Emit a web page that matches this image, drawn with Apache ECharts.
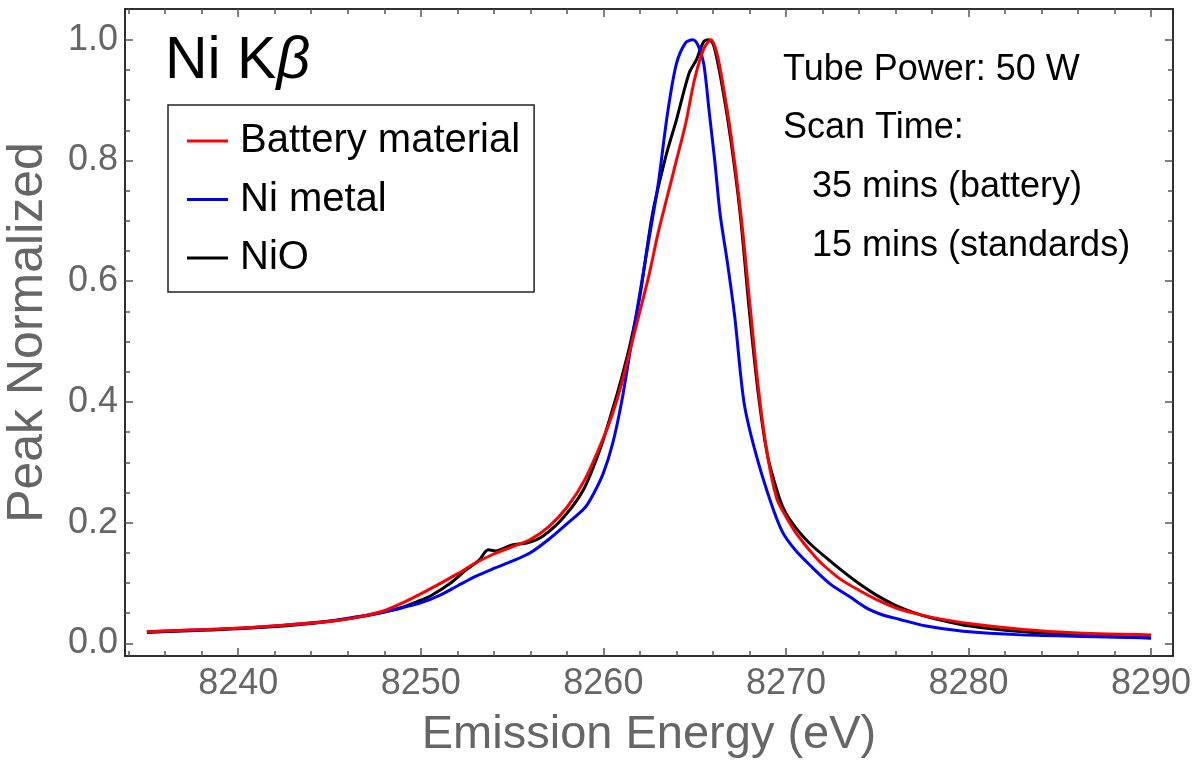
<!DOCTYPE html>
<html><head><meta charset="utf-8">
<script src="https://cdn.jsdelivr.net/npm/echarts@6/dist/echarts.min.js"></script>
<style>html,body{margin:0;padding:0;background:#fff}#c{width:1201px;height:774px}</style>
</head><body><div id="c"></div>
<script>
// ---- data ----
const batteryE = [8235,8237.5,8240,8242.5,8245,8246.5,8248,8249,8250,8251,8252,8253,8254,8255,8256,8257,8258,8259,8260,8260.5,8261,8261.5,8262,8262.5,8263,8263.5,8264,8264.5,8265,8265.5,8265.9,8266.2,8266.5,8267,8267.5,8268,8268.5,8269,8269.5,8270,8270.5,8271,8271.5,8272,8273,8274,8275,8276,8277,8278,8280,8283,8286,8290];
const batteryV = [0.019,0.022,0.025,0.030,0.036,0.043,0.054,0.067,0.082,0.098,0.115,0.133,0.148,0.160,0.172,0.193,0.225,0.272,0.340,0.380,0.430,0.490,0.550,0.610,0.680,0.740,0.800,0.860,0.935,0.985,1.000,0.980,0.935,0.840,0.720,0.570,0.420,0.310,0.240,0.210,0.185,0.165,0.147,0.131,0.106,0.088,0.072,0.059,0.050,0.043,0.033,0.023,0.017,0.014];

const metalE = [8235,8237.5,8240,8242.5,8245,8246.5,8248,8249,8250,8251,8252,8253,8254,8255,8256,8257,8258,8259,8259.5,8260,8260.5,8261,8261.5,8262,8262.5,8263,8263.5,8264,8264.5,8264.9,8265.2,8265.5,8265.8,8266.1,8266.4,8266.8,8267.2,8267.7,8268.3,8269.1,8269.8,8270.5,8271.4,8272.4,8273.5,8274.5,8275.3,8276.2,8277.6,8279.7,8282.9,8287,8290];
const metalV = [0.019,0.022,0.025,0.030,0.037,0.044,0.052,0.059,0.067,0.079,0.095,0.111,0.124,0.136,0.150,0.172,0.198,0.225,0.250,0.282,0.330,0.400,0.490,0.580,0.670,0.760,0.875,0.960,0.995,1.000,0.990,0.960,0.880,0.800,0.710,0.630,0.540,0.400,0.320,0.240,0.185,0.155,0.127,0.099,0.077,0.057,0.047,0.040,0.029,0.020,0.014,0.011,0.009];

const nioE = [8235,8240,8243.4,8246.1,8247.9,8249,8249.8,8250.5,8251.6,8252.5,8253.2,8253.7,8254.1,8255,8255.8,8256.7,8257.8,8258.9,8259.8,8260.5,8261,8261.5,8262,8262.7,8263.45,8264,8264.7,8265.1,8265.5,8265.8,8266.05,8266.5,8267,8267.5,8268,8268.5,8269,8269.65,8270,8270.5,8271,8271.5,8272,8273,8274,8275,8276,8277,8278,8280,8283,8287,8290];
const nioV = [0.018,0.024,0.031,0.041,0.051,0.060,0.069,0.078,0.099,0.122,0.138,0.155,0.153,0.163,0.166,0.178,0.208,0.254,0.320,0.387,0.440,0.500,0.575,0.713,0.810,0.867,0.945,0.967,0.997,1.000,0.990,0.925,0.830,0.710,0.550,0.410,0.310,0.240,0.215,0.193,0.175,0.160,0.147,0.122,0.099,0.079,0.063,0.051,0.042,0.029,0.019,0.012,0.009];

const seriesNames = ['Battery material','Ni metal','NiO'];
const seriesColors = ['#ff0000','#0000ff','#000000'];

const xMajorTicks = [8240,8250,8260,8270,8280,8290];
const xMinorTicks = [8234,8236,8238,8240,8242,8244,8246,8248,8250,8252,8254,8256,8258,8260,8262,8264,8266,8268,8270,8272,8274,8276,8278,8280,8282,8284,8286,8288,8290];
const yMajorTicks = [0,0.2,0.4,0.6,0.8,1.0];
const yMinorTicks = [0,0.05,0.1,0.15,0.2,0.25,0.3,0.35,0.4,0.45,0.5,0.55,0.6,0.65,0.7,0.75,0.8,0.85,0.9,0.95,1.0];

const xTitle = 'Emission Energy (eV)';
const yTitle = 'Peak Normalized';
const noteLines = ['Tube Power: 50 W','Scan Time:','35 mins (battery)','15 mins (standards)'];

// ---- chart ----
const FONT = 'Liberation Sans, Arial, sans-serif';
const X_MIN = 8233.8, X_MAX = 8291.2, Y_MIN = -0.021, Y_MAX = 1.051;
const zip = (a, b) => a.map((x, i) => [x, b[i]]);

function xAxisDef(pos, ticks, len, labels) {
  return {
    type: 'value', position: pos, min: X_MIN, max: X_MAX, scale: true,
    splitLine: {show: false},
    axisLine: {show: true, onZero: false, lineStyle: {color: '#222', width: 1.5}},
    axisTick: {show: true, inside: true, length: len, customValues: ticks, lineStyle: {color: '#555', width: 1.5}},
    axisLabel: labels ? {show: true, customValues: xMajorTicks, margin: 10, fontSize: 36, fontFamily: FONT, color: '#666',
      formatter: v => String(Math.round(v))} : {show: false}
  };
}
function yAxisDef(pos, ticks, len, labels) {
  return {
    type: 'value', position: pos, min: Y_MIN, max: Y_MAX, scale: true,
    splitLine: {show: false},
    axisLine: {show: true, onZero: false, lineStyle: {color: '#222', width: 1.5}},
    axisTick: {show: true, inside: true, length: len, customValues: ticks, lineStyle: {color: '#555', width: 1.5}},
    axisLabel: labels ? {show: true, customValues: yMajorTicks, margin: 7, fontSize: 36, fontFamily: FONT, color: '#666',
      formatter: v => v.toFixed(1)} : {show: false}
  };
}

const xs = [
  Object.assign(xAxisDef('bottom', xMajorTicks, 8, true), {name: xTitle, nameLocation: 'middle', nameGap: 56,
    nameTextStyle: {fontSize: 47, fontFamily: FONT, color: '#666'}}),
  xAxisDef('bottom', xMinorTicks, 5, false),
  xAxisDef('top', xMajorTicks, 8, false),
  xAxisDef('top', xMinorTicks, 5, false)
];
const ys = [
  Object.assign(yAxisDef('left', yMajorTicks, 8, true), {name: yTitle, nameLocation: 'middle', nameGap: 72,
    nameTextStyle: {fontSize: 50, fontFamily: FONT, color: '#666'}}),
  yAxisDef('left', yMinorTicks, 5, false),
  yAxisDef('right', yMajorTicks, 8, false),
  yAxisDef('right', yMinorTicks, 5, false)
];

const dataSets = [zip(batteryE, batteryV), zip(metalE, metalV), zip(nioE, nioV)];
const series = dataSets.map((d, i) => ({
  name: seriesNames[i], type: 'line', data: d, xAxisIndex: 0, yAxisIndex: 0,
  showSymbol: false, symbol: 'none', smooth: 0.3, z: 10 - i,
  lineStyle: {color: seriesColors[i], width: 3}, itemStyle: {color: seriesColors[i]}
}));

const graphic = [
  {type: 'text', left: 165, top: 32, style: {
    text: '{a|Ni K}{b|β}', rich: {a: {fontSize: 59, fontFamily: FONT, fill: '#000'}, b: {fontSize: 59, fontFamily: FONT, fontStyle: 'italic', fill: '#000'}}}},
  {type: 'text', x: 783, y: 70, style: {text: noteLines[0], fontSize: 36, fontFamily: FONT, fill: '#000', verticalAlign: 'middle'}},
  {type: 'text', x: 783, y: 128, style: {text: noteLines[1], fontSize: 36, fontFamily: FONT, fill: '#000', verticalAlign: 'middle'}},
  {type: 'text', x: 812, y: 187, style: {text: noteLines[2], fontSize: 36, fontFamily: FONT, fill: '#000', verticalAlign: 'middle'}},
  {type: 'text', x: 812, y: 246, style: {text: noteLines[3], fontSize: 36, fontFamily: FONT, fill: '#000', verticalAlign: 'middle'}}
];

const chart = echarts.init(document.getElementById('c'), null, {renderer: 'canvas'});
chart.setOption({
  animation: false,
  backgroundColor: '#fff',
  grid: {left: 125, top: 9, width: 1048, height: 647, containLabel: false, outerBoundsMode: 'none'},
  xAxis: xs, yAxis: ys, series: series, graphic: graphic,
  legend: {
    orient: 'vertical', left: 168, top: 105, data: seriesNames,
    icon: 'rect', itemWidth: 41, itemHeight: 3, itemGap: 18.5,
    padding: [16, 14, 14, 19], borderColor: '#222', borderWidth: 1.5, backgroundColor: '#fff',
    textStyle: {fontSize: 40, fontFamily: FONT, color: '#000', lineHeight: 40, padding: [0, 0, 0, 7]},
    selectedMode: false
  }
});
</script></body></html>
